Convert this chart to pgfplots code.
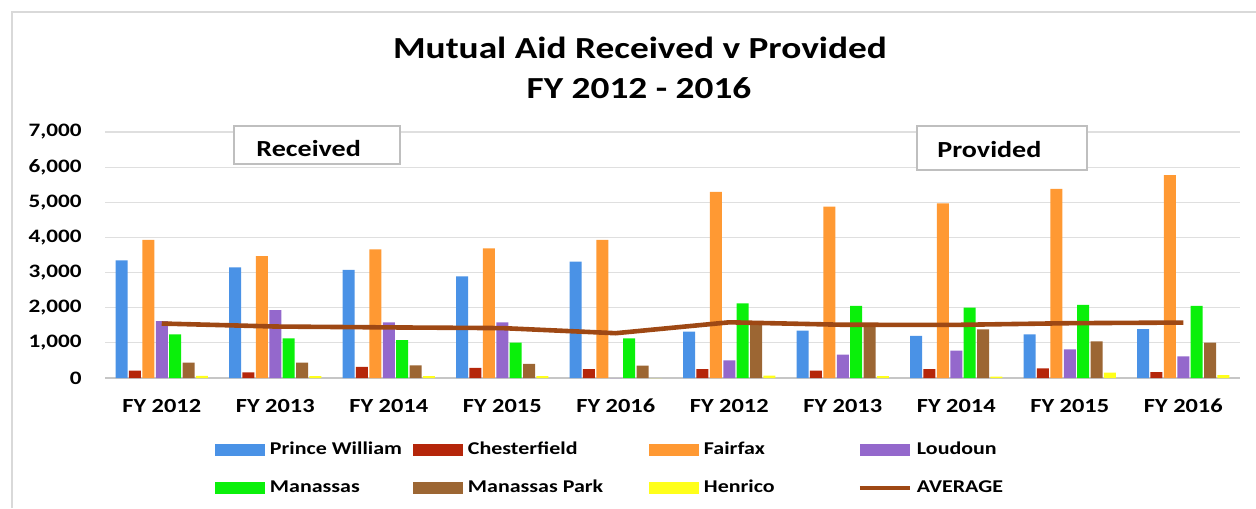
\documentclass[border=0pt]{standalone}
\usepackage{fontspec}
\setmainfont{Carlito}[FakeStretch=1.22]
\usepackage{pgfplots}
\pgfplotsset{compat=1.18}
\definecolor{cPW}{RGB}{74,146,230}
\definecolor{cCh}{RGB}{181,38,10}
\definecolor{cFx}{RGB}{255,153,51}
\definecolor{cLo}{RGB}{148,104,204}
\definecolor{cMa}{RGB}{10,240,10}
\definecolor{cMP}{RGB}{156,102,51}
\definecolor{cHe}{RGB}{255,255,26}
\definecolor{cAvg}{RGB}{158,72,20}
\pgfplotsset{swatch/.style={legend image code/.code={\fill[#1] (0pt,-3pt) rectangle (25pt,3pt);}}}
\begin{document}
\begin{tikzpicture}[x=1pt,y=1pt]
\path[use as bounding box] (0,0) rectangle (628,-254);
\draw[gray!30, line width=0.8pt] (6,-254) -- (6,-6) -- (628,-6);
\begin{axis}[
  at={(52.5pt,-189pt)}, anchor=south west,
  scale only axis, width=567.5pt, height=123pt,
  xmin=-0.5, xmax=9.5, ymin=0, ymax=7000,
  ybar, bar width=6pt,
  separate axis lines,
  axis x line*=bottom, axis y line*=left,
  x axis line style={-, draw=gray!45, line width=0.6pt},
  y axis line style={draw=none},
  major tick length=0pt,
  xtick={0,...,9},
  xticklabels={FY 2012,FY 2013,FY 2014,FY 2015,FY 2016,FY 2012,FY 2013,FY 2014,FY 2015,FY 2016},
  ytick={0,1000,...,7000},
  ymajorgrids, grid style={draw=gray!25, line width=0.6pt},
  /pgf/number format/assume math mode=true,
  /pgf/number format/1000 sep={,},
  yticklabel style={font=\bfseries\fontsize{9.5}{10}\selectfont, inner sep=0pt, anchor=east, xshift=-11.5pt},
  xticklabel style={font=\bfseries\fontsize{10}{11}\selectfont, inner sep=0pt, anchor=center, yshift=-14pt},
  legend columns=4,
  legend cell align=left,
  legend style={draw=none, fill=none, inner sep=0pt, outer sep=0pt,
    at={(axis description cs:0.0969,-0.264)}, anchor=north west,
    font=\bfseries\fontsize{9}{10}\selectfont,
    nodes={inner sep=0pt, text height=6pt, text depth=1pt},
    column sep=0pt, row sep=12pt},
  clip=false,
]
\addplot[fill=cPW, draw=none, bar shift=-20.1pt, swatch=cPW] coordinates {(0,3350) (1,3150) (2,3080) (3,2890) (4,3310) (5,1320) (6,1350) (7,1200) (8,1240) (9,1390)};
\addlegendentry{\hspace{2.5pt}\makebox[71.5pt][l]{Prince William}}
\addplot[fill=cCh, draw=none, bar shift=-13.4pt, swatch=cCh] coordinates {(0,210) (1,160) (2,320) (3,285) (4,250) (5,250) (6,210) (7,250) (8,275) (9,165)};
\addlegendentry{\hspace{2.5pt}\makebox[90.5pt][l]{Chesterfield}}
\addplot[fill=cFx, draw=none, bar shift=-6.7pt, swatch=cFx] coordinates {(0,3930) (1,3470) (2,3660) (3,3690) (4,3930) (5,5300) (6,4880) (7,4970) (8,5380) (9,5770)};
\addlegendentry{\hspace{2.5pt}\makebox[77pt][l]{Fairfax}}
\addplot[fill=cLo, draw=none, bar shift=0pt, swatch=cLo] coordinates {(0,1620) (1,1935) (2,1585) (3,1585) (4,0) (5,500) (6,665) (7,780) (8,815) (9,615)};
\addlegendentry{\hspace{2.5pt}Loudoun}
\addplot[fill=cMa, draw=none, bar shift=6.7pt, swatch=cMa] coordinates {(0,1245) (1,1130) (2,1080) (3,1005) (4,1130) (5,2125) (6,2050) (7,2000) (8,2080) (9,2050)};
\addlegendentry{\hspace{2.5pt}\makebox[71.5pt][l]{Manassas}}
\addplot[fill=cMP, draw=none, bar shift=13.4pt, swatch=cMP] coordinates {(0,435) (1,435) (2,360) (3,400) (4,350) (5,1555) (6,1460) (7,1385) (8,1045) (9,1005)};
\addlegendentry{\hspace{2.5pt}\makebox[90.5pt][l]{Manassas Park}}
\addplot[fill=cHe, draw=none, bar shift=20.1pt, swatch=cHe] coordinates {(0,60) (1,55) (2,50) (3,50) (4,0) (5,65) (6,55) (7,40) (8,150) (9,85)};
\addlegendentry{\hspace{2.5pt}\makebox[77pt][l]{Henrico}}
\addplot[sharp plot, draw=cAvg, line width=2.3pt, mark=none,
  legend image code/.code={\draw[cAvg, line width=2pt] (0pt,0pt) -- (25pt,0pt);}]
  coordinates {(0,1550) (1,1465) (2,1440) (3,1420) (4,1275) (5,1585) (6,1515) (7,1512) (8,1560) (9,1578)};
\addlegendentry{\hspace{2.5pt}AVERAGE}
\end{axis}
\draw[gray!50, fill=white, line width=0.6pt] (117,-63) rectangle (200,-82);
\node[anchor=west, inner sep=0pt, font=\bfseries\fontsize{11.5}{12}\selectfont] at (128,-74.5) {Received};
\draw[gray!50, fill=white, line width=0.6pt] (458.5,-63) rectangle (543.5,-85);
\node[anchor=west, inner sep=0pt, font=\bfseries\fontsize{11.5}{12}\selectfont] at (468.5,-75) {Provided};
\node[inner sep=0pt, font=\bfseries\fontsize{15.3}{18}\selectfont] at (320,-24) {Mutual Aid Received v Provided};
\node[inner sep=0pt, font=\bfseries\fontsize{15.3}{18}\selectfont] at (319.5,-44) {FY 2012 - 2016};
\end{tikzpicture}
\end{document}
